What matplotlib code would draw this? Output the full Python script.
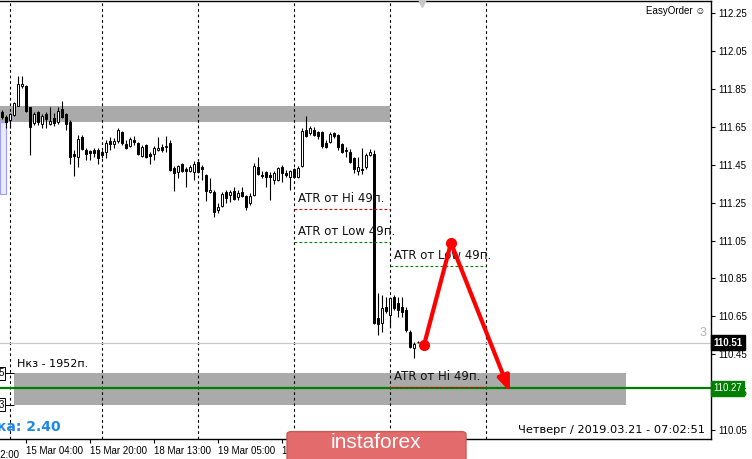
import matplotlib
matplotlib.use('Agg')
import matplotlib.pyplot as plt
from matplotlib.patches import Rectangle, FancyBboxPatch

plt.rcParams['font.family'] = ['Liberation Sans', 'DejaVu Sans']

# H1 candles, bar index 0 = 14 Mar 22:00 ... 104 = 21 Mar 07:00
opens = [111.729, 111.702, 111.686, 111.713, 111.760, 111.866, 111.866, 111.755, 111.671, 111.729,
         111.665, 111.718, 111.665, 111.697, 111.676, 111.745, 111.718, 111.676, 111.507, 111.491,
         111.597, 111.528, 111.523, 111.528, 111.528, 111.517, 111.517, 111.576, 111.560, 111.576,
         111.623, 111.560, 111.549, 111.581, 111.565, 111.496, 111.554, 111.507, 111.507, 111.528,
         111.544, 111.544, 111.565, 111.433, 111.412, 111.454, 111.428, 111.417, 111.412, 111.465,
         111.438, 111.396, 111.306, 111.306, 111.211, 111.232, 111.306, 111.290, 111.312, 111.280,
         111.306, 111.285, 111.248, 111.290, 111.438, 111.396, 111.412, 111.396, 111.370, 111.370,
         111.438, 111.407, 111.385, 111.428, 111.385, 111.444, 111.634, 111.618, 111.634, 111.623,
         111.623, 111.565, 111.570, 111.618, 111.607, 111.560, 111.528, 111.517, 111.486, 111.417,
         111.428, 111.438, 111.502, 111.507, 110.641, 110.615, 110.699, 110.657, 110.752, 110.720,
         110.699, 110.683, 110.567, 110.483, 110.514]
closes = [111.702, 111.676, 111.718, 111.776, 111.876, 111.876, 111.734, 111.649, 111.718, 111.676,
          111.708, 111.692, 111.681, 111.671, 111.734, 111.702, 111.665, 111.491, 111.496, 111.586,
          111.533, 111.507, 111.512, 111.512, 111.486, 111.502, 111.565, 111.560, 111.576, 111.634,
          111.565, 111.539, 111.586, 111.570, 111.507, 111.544, 111.491, 111.496, 111.539, 111.539,
          111.528, 111.549, 111.422, 111.407, 111.444, 111.417, 111.417, 111.438, 111.454, 111.412,
          111.428, 111.312, 111.317, 111.201, 111.227, 111.296, 111.275, 111.306, 111.269, 111.301,
          111.285, 111.227, 111.285, 111.444, 111.401, 111.391, 111.385, 111.385, 111.407, 111.433,
          111.407, 111.396, 111.417, 111.385, 111.433, 111.628, 111.602, 111.644, 111.607, 111.602,
          111.549, 111.544, 111.612, 111.602, 111.544, 111.517, 111.523, 111.465, 111.428, 111.438,
          111.422, 111.502, 111.517, 110.615, 110.609, 110.694, 110.678, 110.747, 110.694, 110.683,
          110.673, 110.578, 110.488, 110.504, 110.514]
highs = [111.739, 111.713, 111.723, 111.781, 111.919, 111.919, 111.871, 111.755, 111.729, 111.734,
         111.718, 111.729, 111.755, 111.723, 111.755, 111.787, 111.723, 111.686, 111.528, 111.607,
         111.607, 111.539, 111.528, 111.539, 111.539, 111.528, 111.581, 111.597, 111.591, 111.644,
         111.628, 111.581, 111.597, 111.602, 111.570, 111.554, 111.560, 111.517, 111.549, 111.597,
         111.560, 111.602, 111.581, 111.444, 111.449, 111.459, 111.438, 111.449, 111.470, 111.470,
         111.449, 111.401, 111.380, 111.317, 111.248, 111.306, 111.317, 111.317, 111.333, 111.317,
         111.333, 111.290, 111.301, 111.459, 111.491, 111.417, 111.417, 111.412, 111.417, 111.438,
         111.449, 111.422, 111.422, 111.433, 111.444, 111.644, 111.708, 111.655, 111.649, 111.628,
         111.628, 111.581, 111.623, 111.623, 111.612, 111.565, 111.544, 111.533, 111.491, 111.491,
         111.539, 111.512, 111.533, 111.528, 110.773, 110.762, 110.752, 110.752, 110.762, 110.752,
         110.752, 110.699, 110.578, 110.514, 110.520]
lows = [111.692, 111.644, 111.644, 111.708, 111.760, 111.855, 111.729, 111.502, 111.660, 111.660,
        111.644, 111.644, 111.660, 111.655, 111.665, 111.697, 111.634, 111.454, 111.391, 111.438,
        111.528, 111.475, 111.475, 111.491, 111.454, 111.486, 111.486, 111.528, 111.539, 111.565,
        111.554, 111.533, 111.544, 111.554, 111.502, 111.491, 111.486, 111.454, 111.475, 111.523,
        111.517, 111.517, 111.417, 111.312, 111.380, 111.412, 111.333, 111.412, 111.370, 111.407,
        111.370, 111.259, 111.301, 111.174, 111.195, 111.227, 111.248, 111.253, 111.264, 111.264,
        111.280, 111.211, 111.238, 111.285, 111.396, 111.380, 111.333, 111.264, 111.349, 111.364,
        111.359, 111.385, 111.317, 111.380, 111.380, 111.438, 111.597, 111.607, 111.602, 111.586,
        111.539, 111.539, 111.565, 111.591, 111.528, 111.512, 111.491, 111.459, 111.407, 111.396,
        111.401, 111.428, 111.496, 110.609, 110.551, 110.567, 110.667, 110.593, 110.683, 110.646,
        110.646, 110.567, 110.483, 110.430, 110.509]

day_starts = [2, 25, 49, 73, 97, 121]
time_ticks = [6, 22, 38, 54, 70, 86]
time_labels = ['15 Mar 04:00', '15 Mar 20:00', '18 Mar 13:00', '19 Mar 05:00',
               '19 Mar 21:00', '20 Mar 13:00']
price_ticks = [110.05, 110.25, 110.45, 110.65, 110.85, 111.05, 111.25, 111.45,
               111.65, 111.85, 112.05, 112.25]

# zones (low, high, from bar, to bar)
upper_zone = (111.676, 111.760, -0.5, 97)
lower_zone = (110.183, 110.349, 3, 156)
bid_price = 110.51
green_level = 110.27

atr_levels = [111.216, 111.044, 110.916, 110.278]
atr_from = [73, 73, 97, 97]
atr_to = [97, 97, 121, 121]
atr_colors = ['#e00000', '#008000', '#008000', '#e00000']
atr_texts = ['ATR от Hi 49п.', 'ATR от Low 49п.', 'ATR от Low 49п.', 'ATR от Hi 49п.']

forecast_x = [105.5, 112.25, 127]
forecast_y = [110.498, 111.037, 110.25]

fig = plt.figure(figsize=(7.52, 4.59), dpi=100)
ax = fig.add_axes([0, 20 / 459, 711 / 752, 438 / 459])
ax.set_xlim(-0.5, 177.25)
ax.set_ylim(110.0024, 112.315)

ax.fill_between([upper_zone[2], upper_zone[3]], upper_zone[0], upper_zone[1], color='#aaaaaa', lw=0, zorder=1)
ax.fill_between([lower_zone[2], lower_zone[3]], lower_zone[0], lower_zone[1], color='#aaaaaa', lw=0, zorder=1)
ax.add_patch(Rectangle((-0.5, 111.296), 1.6, 0.38, fc='#ebebfd', ec='#9d9dff', lw=0.8, zorder=0.5))

for d in day_starts:
    ax.axvline(d, color='black', ls=(0, (2.5, 2.5)), lw=0.8, zorder=2)

ax.axhline(bid_price, color='#c8c8c8', lw=0.9, zorder=2)
ax.axhline(green_level, color='#008000', lw=1.6, zorder=2)

# candles
for i in range(len(opens)):
    o, c = opens[i], closes[i]
    ax.vlines(i, lows[i], highs[i], color='black', lw=0.8, zorder=3)
    fc = 'white' if c >= o else 'black'
    ax.bar(i, max(abs(c - o), 0.0015), bottom=min(o, c), width=0.62,
           facecolor=fc, edgecolor='black', lw=0.7, zorder=4)

for lvl, x0, x1, col, txt in zip(atr_levels, atr_from, atr_to, atr_colors, atr_texts):
    ax.hlines(lvl, x0, x1, colors=col, linestyles=(0, (2.5, 2)), lw=0.8, zorder=5)
    ax.text(x0 + 1, lvl + 0.022, txt, fontsize=8.5, family='DejaVu Sans',
            color='#111111', va='bottom', ha='left', zorder=6)

# forecast path
ax.plot(forecast_x[:2], forecast_y[:2], color='red', lw=3, solid_capstyle='round', zorder=7)
ax.annotate('', xy=(forecast_x[2], forecast_y[2]), xytext=(forecast_x[1], forecast_y[1]),
            arrowprops=dict(arrowstyle='-|>,head_length=0.9,head_width=0.35', color='red',
                            lw=3, shrinkA=0, shrinkB=0), zorder=7)
ax.plot(forecast_x[:2], forecast_y[:2], 'o', color='red', ms=7, zorder=8)

# left-side zone price tags
for p, t in [(lower_zone[1], '5'), (lower_zone[0], '3')]:
    ax.hlines(p, 0.5, 3, colors='black', lw=0.7, zorder=5)
    ax.text(0.5, p, t, fontsize=7, ha='right', va='center', zorder=6, clip_on=False,
            bbox=dict(boxstyle='square,pad=0.15', fc='white', ec='black', lw=0.7))

ax.text(3.8, 110.40, 'Нкз - 1952п.', fontsize=8, family='DejaVu Sans', va='center', ha='left', zorder=6)

ax.plot(105, 112.303, marker='v', color='#c8c8c8', ms=6, clip_on=False, zorder=6)

# axes styling
for s in ['top', 'right', 'bottom']:
    ax.spines[s].set_color('black')
    ax.spines[s].set_linewidth(1)
ax.spines['left'].set_visible(False)
ax.yaxis.tick_right()
ax.set_yticks(price_ticks)
ax.set_yticklabels([f'{p:.2f}' for p in price_ticks])
ax.tick_params(axis='y', labelsize=7, length=3, width=0.8, pad=2)
ax.set_xticks(time_ticks)
ax.set_xticklabels(time_labels)
for lab in ax.get_xticklabels():
    lab.set_horizontalalignment('left')
ax.tick_params(axis='x', labelsize=7, length=3, width=0.8, pad=2)
ax.text(-10, -0.025, '14 Mar 12:00', transform=ax.get_xaxis_transform(), fontsize=7,
        ha='left', va='top', clip_on=False)

# price tags on the scale
ax.text(1.003, bid_price, '110.51', transform=ax.get_yaxis_transform(), color='white',
        fontsize=7, fontweight='bold', va='center', ha='left', clip_on=False, zorder=10,
        bbox=dict(boxstyle='square,pad=0.25', fc='black', ec='black'))
ax.text(1.003, green_level, '110.27', transform=ax.get_yaxis_transform(), color='white',
        fontsize=7, va='center', ha='left', clip_on=False, zorder=10,
        bbox=dict(boxstyle='square,pad=0.25', fc='#008000', ec='#008000'))

# overlay texts
fig.text(-3 / 752, 1 - 427 / 459, 'ка: 2.40', fontsize=10, fontweight='bold', color='#1e88e5',
         family='DejaVu Sans', ha='left', va='center')
fig.text(705 / 752, 1 - 430 / 459, 'Четверг / 2019.03.21 - 07:02:51', fontsize=8.2,
         family='DejaVu Sans', ha='right', va='center')
fig.text(706 / 752, 1 - 333 / 459, '3', fontsize=9, color='#b4b4b4', ha='right', va='center')
fig.text(705 / 752, 1 - 11 / 459, 'EasyOrder ☺', fontsize=7, ha='right', va='center')

logo = FancyBboxPatch((287 / 752, -0.01), 179 / 752, 32 / 459, boxstyle='round,pad=0,rounding_size=0.006',
                      transform=fig.transFigure, fc='#e36b6b', ec='#c85a5a', lw=1, zorder=20)
fig.add_artist(logo)
fig.text(376 / 752, 1 - 442 / 459, 'instaforex', color='white', fontsize=15,
         ha='center', va='center', zorder=21)

fig.savefig('out.png', dpi=100)
